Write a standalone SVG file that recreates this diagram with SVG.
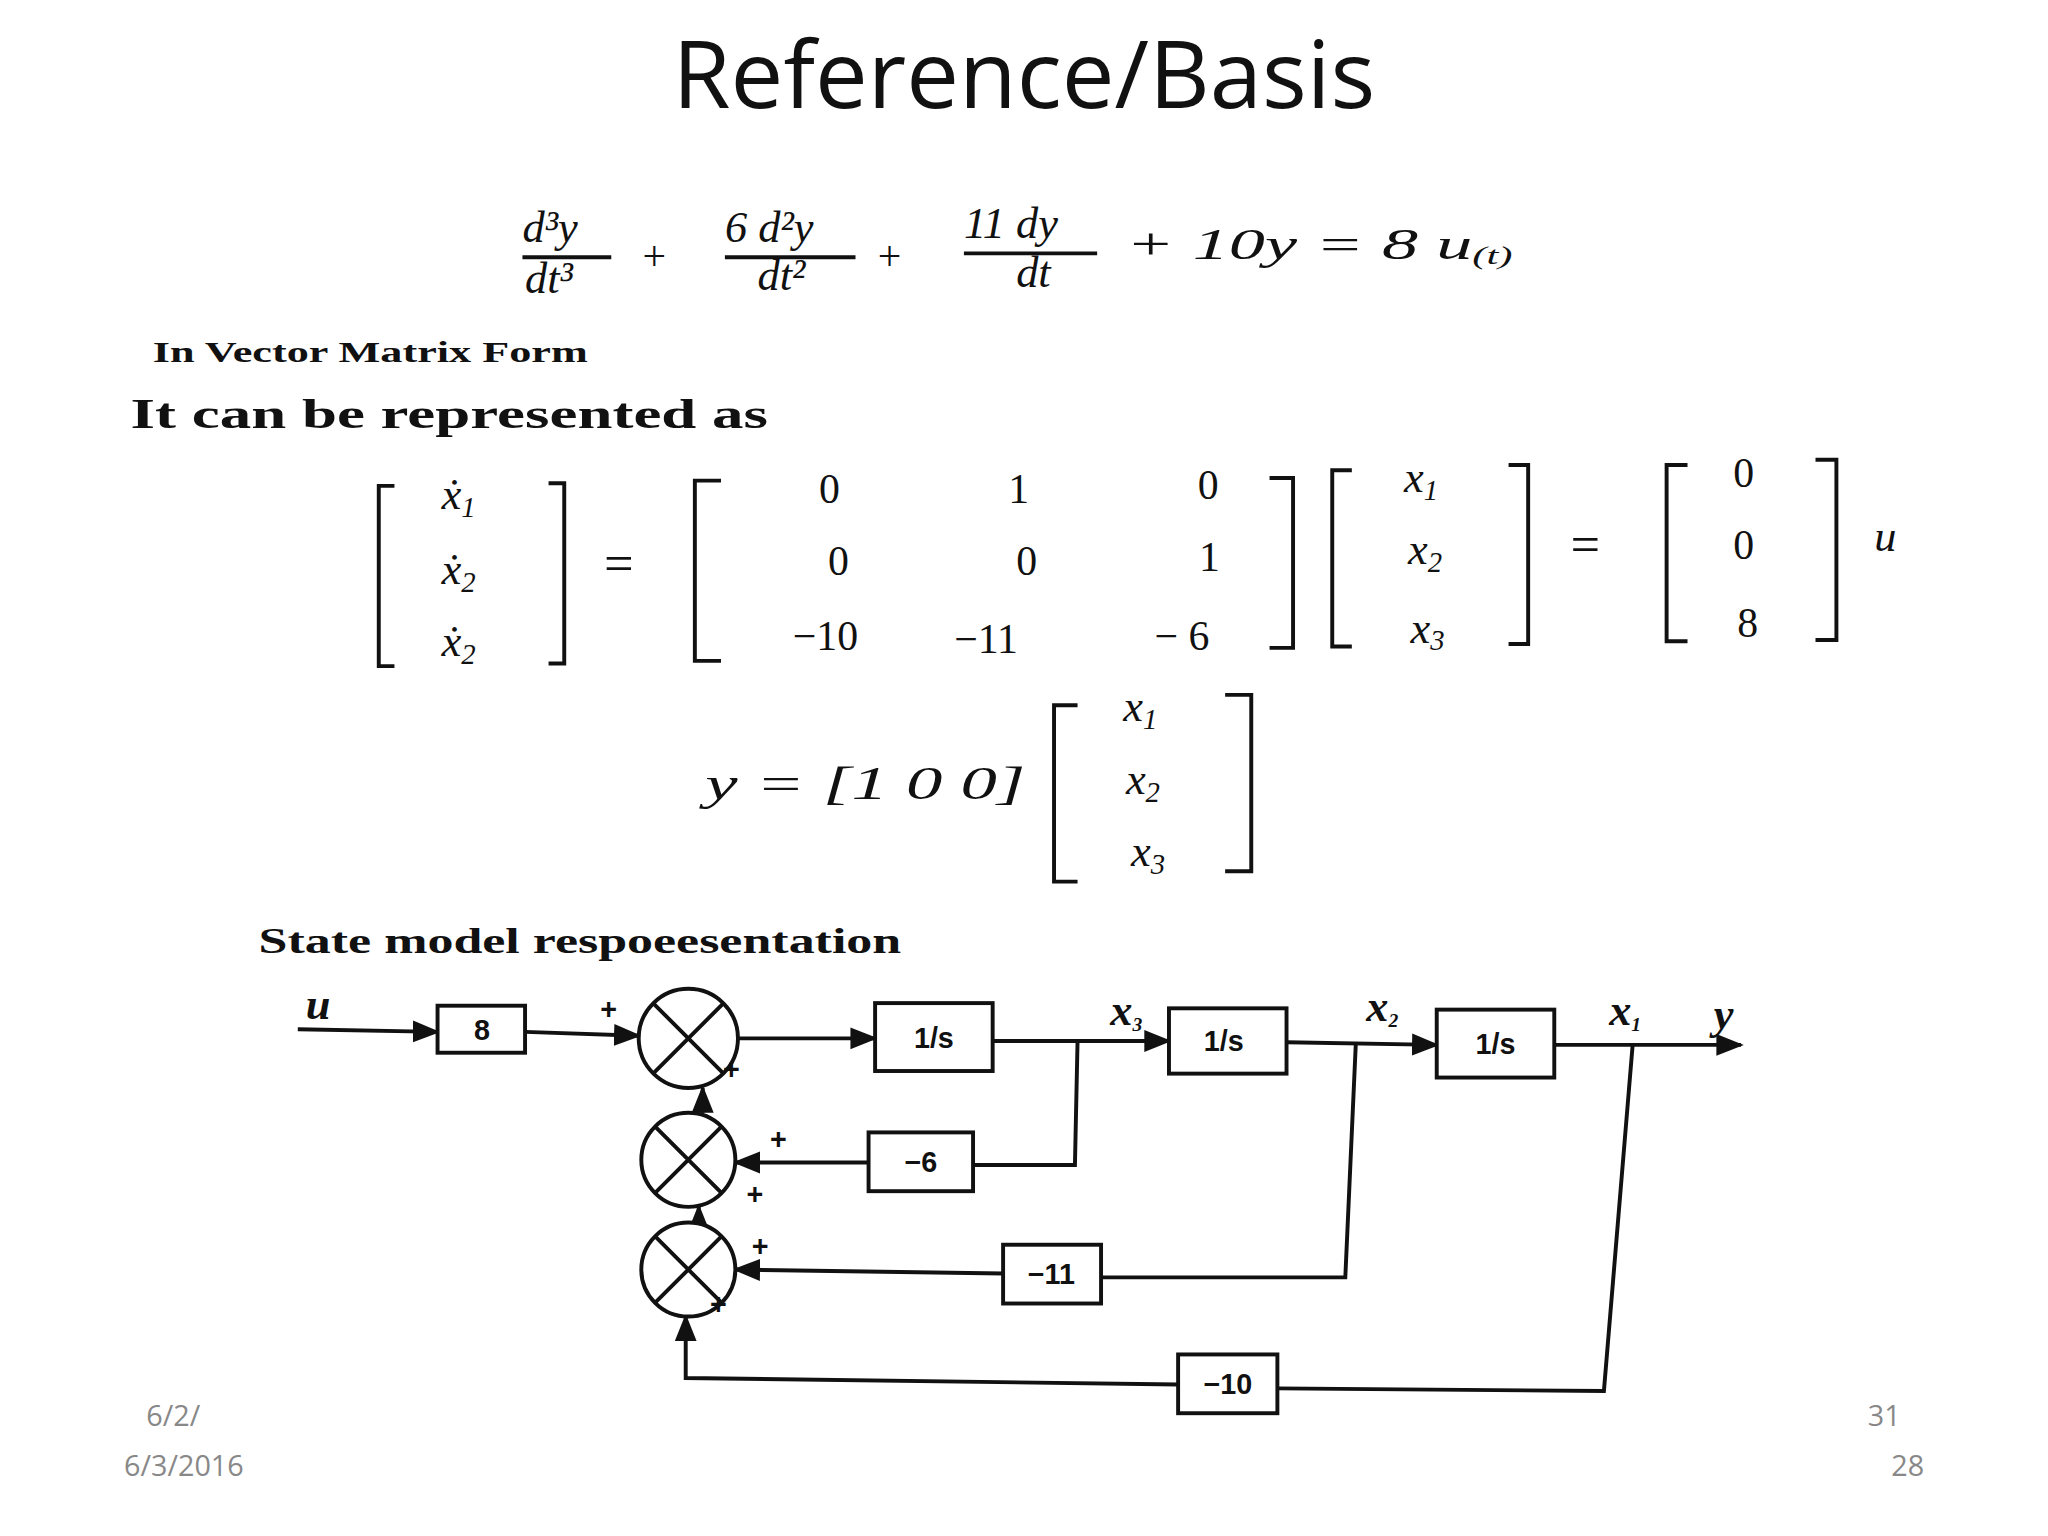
<svg xmlns="http://www.w3.org/2000/svg" width="2048" height="1536" viewBox="0 0 2048 1536">
<defs>
<marker id="ah" viewBox="0 0 10 10" refX="9" refY="5" markerWidth="7" markerHeight="7" orient="auto"><path d="M0,1 L10,5 L0,9 z" fill="#111"/></marker>
<style>
.m{font-family:"Liberation Serif",serif;font-style:italic;font-size:34px;fill:#111}
.n{font-family:"Liberation Serif",serif;font-size:32px;fill:#111}
.b{font-family:"Liberation Serif",serif;font-weight:bold;fill:#111}
.l{stroke:#111;stroke-width:3;fill:none}
.k{stroke:#111;stroke-width:3;fill:#fff}
.t{font-family:"Liberation Sans",sans-serif;font-weight:bold;font-size:22px;fill:#111;text-anchor:middle}
.f{font-family:"Open Sans",sans-serif;font-size:22px;fill:#888}
</style>
</defs>
<rect width="2048" height="1536" fill="#fff"/>
<g transform="scale(1.30612)">
<text x="784" y="83" font-family="Open Sans, sans-serif" font-size="72" text-anchor="middle" fill="#111">Reference/Basis</text>
<g id="equation">
<text class="m" x="400" y="185">d³y</text><line class="l" x1="400" y1="197" x2="468" y2="197" stroke-width="2"/><text class="m" x="402" y="224">dt³</text>
<text class="n" x="492" y="207" font-size="40">+</text>
<text class="m" x="555" y="185">6 d²y</text><line class="l" x1="555" y1="197" x2="655" y2="197" stroke-width="2"/><text class="m" x="580" y="222">dt²</text>
<text class="n" x="672" y="207" font-size="40">+</text>
<text class="m" x="738" y="182">11 dy</text><line class="l" x1="738" y1="194" x2="840" y2="194" stroke-width="2"/><text class="m" x="778" y="220">dt</text>
<text class="m" x="862" y="198" font-size="36" textLength="296" lengthAdjust="spacingAndGlyphs">+ 10y = 8 u<tspan font-size="20" dy="4">(t)</tspan></text>
</g>
<text class="b" x="117" y="277" font-size="22" font-weight="normal" textLength="333" lengthAdjust="spacingAndGlyphs">In Vector Matrix Form</text>
<text class="b" x="100" y="328" font-size="32" textLength="488" lengthAdjust="spacingAndGlyphs">It can be represented as</text>
<g id="matrix" class="m">
<path class="l" d="M302,372 h-12 v138 h12 M420,370 h12 v138 h-12"/>
<text x="338" y="390">ẋ<tspan font-size="22" dy="6">1</tspan></text>
<text x="338" y="447">ẋ<tspan font-size="22" dy="6">2</tspan></text>
<text x="338" y="502">ẋ<tspan font-size="22" dy="6">2</tspan></text>
<text x="460" y="445" font-size="40">=</text>
<path class="l" d="M552,368 h-20 v138 h20 M972,366 h18 v130 h-18"/>
<g class="n" text-anchor="middle" font-style="normal">
<text x="635" y="385">0</text><text x="780" y="385">1</text><text x="925" y="382">0</text>
<text x="642" y="440">0</text><text x="786" y="440">0</text><text x="926" y="437">1</text>
<text x="632" y="498">−10</text><text x="755" y="500">−11</text><text x="905" y="498">− 6</text>
<text x="1335" y="373">0</text><text x="1335" y="428">0</text><text x="1338" y="488">8</text>
</g>
<path class="l" d="M1035,360 h-15 v135 h15 M1155,356 h15 v137 h-15"/>
<text x="1075" y="377">x<tspan font-size="22" dy="6">1</tspan></text>
<text x="1078" y="432">x<tspan font-size="22" dy="6">2</tspan></text>
<text x="1080" y="492">x<tspan font-size="22" dy="6">3</tspan></text>
<text x="1200" y="430" font-size="40">=</text>
<path class="l" d="M1292,356 h-16 v135 h16 M1390,352 h16 v138 h-16"/>
<text x="1435" y="422">u</text>
<text x="540" y="612" font-size="36" textLength="245" lengthAdjust="spacingAndGlyphs">y = [1 0 0]</text>
<path class="l" d="M825,540 h-18 v135 h18 M938,532 h20 v135 h-20"/>
<text x="860" y="552">x<tspan font-size="22" dy="6">1</tspan></text>
<text x="862" y="608">x<tspan font-size="22" dy="6">2</tspan></text>
<text x="866" y="663">x<tspan font-size="22" dy="6">3</tspan></text>
</g>
<text class="b" x="198" y="730" font-size="28" textLength="492" lengthAdjust="spacingAndGlyphs">State model respoeesentation</text>
<g id="connectors">
<line class="l" x1="228" y1="788" x2="335" y2="790" marker-end="url(#ah)"/>
<line class="l" x1="402" y1="790" x2="489" y2="793" marker-end="url(#ah)"/>
<line class="l" x1="565" y1="795" x2="670" y2="795" marker-end="url(#ah)"/>
<line class="l" x1="760" y1="797" x2="895" y2="797" marker-end="url(#ah)"/>
<line class="l" x1="985" y1="798" x2="1100" y2="800" marker-end="url(#ah)"/>
<line class="l" x1="1190" y1="800" x2="1333" y2="800" marker-end="url(#ah)"/>
<line class="l" x1="538" y1="852" x2="538" y2="833" marker-end="url(#ah)"/>
<line class="l" x1="535" y1="936" x2="535" y2="924" marker-end="url(#ah)"/>
<polyline class="l" points="825,797 823,892 745,892"/>
<line class="l" x1="665" y1="890" x2="563" y2="890" marker-end="url(#ah)"/>
<polyline class="l" points="1038,800 1030,978 843,978"/>
<line class="l" x1="768" y1="975" x2="563" y2="972" marker-end="url(#ah)"/>
<polyline class="l" points="1250,800 1228,1065 978,1063"/>
<polyline class="l" points="902,1060 525,1055 525,1008" marker-end="url(#ah)"/>
</g>
<g id="blocks">
<rect class="k" x="335" y="770" width="67" height="36"/><text class="t" x="369" y="796">8</text>
<rect class="k" x="670" y="768" width="90" height="52"/><text class="t" x="715" y="802">1/s</text>
<rect class="k" x="895" y="772" width="90" height="50"/><text class="t" x="937" y="805">1/s</text>
<rect class="k" x="1100" y="773" width="90" height="52"/><text class="t" x="1145" y="807">1/s</text>
<rect class="k" x="665" y="867" width="80" height="45"/><text class="t" x="705" y="897">−6</text>
<rect class="k" x="768" y="953" width="75" height="45"/><text class="t" x="805" y="983">−11</text>
<rect class="k" x="902" y="1037" width="76" height="45"/><text class="t" x="940" y="1067">−10</text>
</g>
<g id="summers" class="l">
<circle class="k" cx="527" cy="795" r="38"/><path d="M500,768 L554,822 M554,768 L500,822"/>
<circle class="k" cx="527" cy="888" r="36"/><path d="M502,863 L552,913 M552,863 L502,913"/>
<circle class="k" cx="527" cy="972" r="36"/><path d="M502,947 L552,997 M552,947 L502,997"/>
</g>
<g class="t" font-size="18">
<text x="466" y="780">+</text><text x="560" y="826">+</text><text x="596" y="880">+</text><text x="578" y="922">+</text><text x="582" y="962">+</text><text x="550" y="1006">+</text>
</g>
<g class="m" font-size="24" font-weight="bold" font-style="normal" font-family="Liberation Sans, sans-serif">
<text x="234" y="780">u</text><text x="850" y="785">x<tspan font-size="15" dy="4">3</tspan></text>
<text x="1046" y="782">x<tspan font-size="15" dy="4">2</tspan></text><text x="1232" y="785">x<tspan font-size="15" dy="4">1</tspan></text>
<text x="1312" y="788">y</text>
</g>
<text class="f" x="112" y="1092">6/2/</text><text class="f" x="1430" y="1092">31</text>
<text class="f" x="95" y="1130">6/3/2016</text><text class="f" x="1448" y="1130">28</text>
</g>
</svg>
